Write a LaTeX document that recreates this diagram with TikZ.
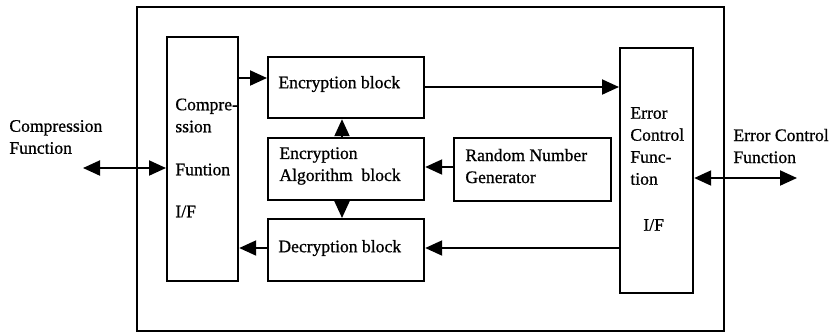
\documentclass[tikz,border=0pt]{standalone}
\usepackage{fontspec}
\setmainfont{Liberation Serif}
\newfontfamily\scanfont{Liberation Serif}[FakeBold=0.8]
\usetikzlibrary{arrows.meta}
\begin{document}
\begin{tikzpicture}[x=0.5pt,y=-0.5pt,
  box/.style={draw, line width=1.1pt, anchor=north west, inner sep=0pt},
  txt/.style={font=\scanfont\fontsize{8.8}{11}\selectfont, align=left, inner sep=0pt},
  arr/.style={line width=1pt, -{Triangle[length=8.5pt,width=7.5pt]}},
  biarr/.style={line width=1pt, {Triangle[length=8.5pt,width=7.5pt]}-{Triangle[length=8.5pt,width=7.5pt]}}]
\useasboundingbox (0,0) rectangle (833,334);
% outer frame
\node[box, minimum width=293.5pt, minimum height=162pt] (outer) at (136,6) {};
% blocks
\node[box, minimum width=35.5pt, minimum height=122pt] (comp) at (166,36) {};
\node[box, minimum width=78pt, minimum height=30.5pt] (enc) at (267,56) {};
\node[box, minimum width=78pt, minimum height=31pt] (alg) at (267,137) {};
\node[box, minimum width=78pt, minimum height=31pt] (dec) at (267,218) {};
\node[box, minimum width=78.5pt, minimum height=31.5pt] (rng) at (453,137) {};
\node[box, minimum width=36.5pt, minimum height=122.5pt] (ecf) at (619,47) {};
% texts
\node[txt, anchor=west] (enct) at (278,84) {Encryption block};
\node[txt, anchor=west] (algt) at (279,166) {Encryption\\Algorithm\ \ block};
\node[txt, anchor=west] (dect) at (278,248) {Decryption block};
\node[txt, anchor=west] (rngt) at (465,166) {Random Number\\Generator};
\node[txt, anchor=west] (compt) at (175,158) {Compre-\\ssion\\[10.5pt]Funtion\\[10pt]I/F};
\node[txt, anchor=west] (ecft) at (630,169) {Error\\Control\\Func-\\tion\\[12pt]\hspace*{6.5pt}I/F};
\node[txt, anchor=west] (cfl) at (9,137) {Compression\\Function};
\node[txt, anchor=west] (ecl) at (733,146) {Error Control\\Function};
% helper coordinates
\coordinate (y1) at (0,78);
\coordinate (y2) at (0,87);
\coordinate (y3) at (0,248);
\coordinate (y4) at (0,167);
\coordinate (y5) at (0,168);
\coordinate (y6) at (0,178);
\coordinate (xa) at (342,0);
\coordinate (cfend) at (83,168);
\coordinate (ecend) at (797,178);
% connectors
\draw[arr] (comp.east |- y1) -- (enc.west |- y1);
\draw[arr] (enc.east |- y2) -- (ecf.west |- y2);
\draw[arr] (ecf.west |- y3) -- (dec.east |- y3);
\draw[arr] (dec.west |- y3) -- (comp.east |- y3);
\draw[arr] (rng.west |- y4) -- (alg.east |- y4);
\draw[arr] (xa |- alg.north) -- (xa |- enc.south);
\draw[arr] (xa |- alg.south) -- (xa |- dec.north);
\draw[biarr] (cfend) -- (comp.west |- y5);
\draw[biarr] (ecf.east |- y6) -- (ecend);
\end{tikzpicture}
\end{document}
